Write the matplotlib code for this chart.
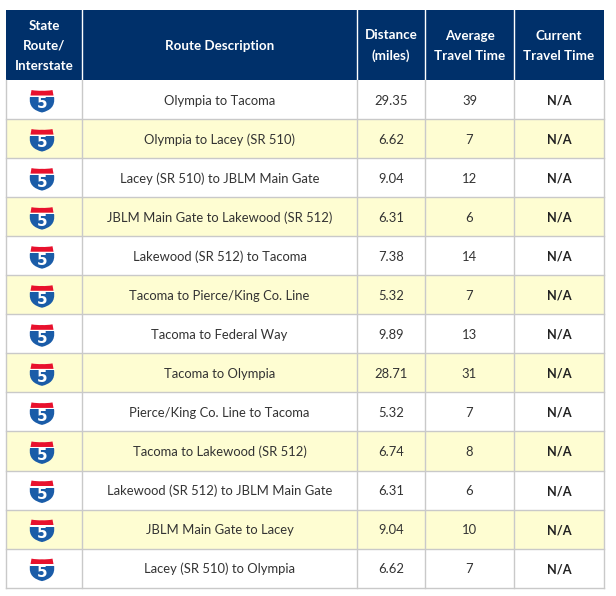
import matplotlib
matplotlib.use("Agg")
import matplotlib.pyplot as plt
from matplotlib.patches import Rectangle, PathPatch
from matplotlib.path import Path

routes = [
    "Olympia to Tacoma", "Olympia to Lacey (SR 510)", "Lacey (SR 510) to JBLM Main Gate",
    "JBLM Main Gate to Lakewood (SR 512)", "Lakewood (SR 512) to Tacoma",
    "Tacoma to Pierce/King Co. Line", "Tacoma to Federal Way", "Tacoma to Olympia",
    "Pierce/King Co. Line to Tacoma", "Tacoma to Lakewood (SR 512)",
    "Lakewood (SR 512) to JBLM Main Gate", "JBLM Main Gate to Lacey", "Lacey (SR 510) to Olympia",
]
distance = ["29.35", "6.62", "9.04", "6.31", "7.38", "5.32", "9.89", "28.71", "5.32", "6.74", "6.31", "9.04", "6.62"]
avg_time = ["39", "7", "12", "6", "14", "7", "13", "31", "7", "8", "6", "10", "7"]
cur_time = ["N/A"] * 13
headers = ["State\nRoute/\nInterstate", "Route Description", "Distance\n(miles)",
           "Average\nTravel Time", "Current\nTravel Time"]

col_x = [6, 82, 357, 425, 514, 604]
head_top, head_bot = 10, 80
row_h = 39.05

NAVY = "#00306a"
CREAM = "#fefdd2"
LINE = "#c9c9c9"
TXT = "#333333"

plt.rcParams["font.family"] = ["Lato", "DejaVu Sans"]


def draw_shield(ax, cx, cy):
    # blue body
    body = Path(
        [(cx - 12, cy - 4), (cx + 12, cy - 4),
         (cx + 13.5, cy + 6), (cx + 8, cy + 10), (cx, cy + 12),
         (cx - 8, cy + 10), (cx - 13.5, cy + 6), (cx - 12, cy - 4)],
        [Path.MOVETO, Path.LINETO, Path.CURVE4, Path.CURVE4, Path.CURVE4, Path.CURVE4, Path.CURVE4, Path.CURVE4],
    )
    ax.add_patch(PathPatch(body, fc="#1a5ca8", ec="none", zorder=3))
    # red cap, top edge dips a little in the middle
    cap = Path(
        [(cx - 11.5, cy - 5), (cx - 10.5, cy - 10.5), (cx - 5, cy - 9.5), (cx, cy - 9.8),
         (cx + 5, cy - 9.5), (cx + 10.5, cy - 10.5), (cx + 11.5, cy - 5), (cx - 11.5, cy - 5)],
        [Path.MOVETO, Path.LINETO, Path.CURVE3, Path.CURVE3, Path.CURVE3, Path.CURVE3, Path.LINETO, Path.CLOSEPOLY],
    )
    ax.add_patch(PathPatch(cap, fc="#e8112d", ec="none", zorder=4))
    ax.add_patch(Rectangle((cx - 12.5, cy - 5), 25, 1.5, fc="white", ec="none", zorder=5))
    ax.text(cx, cy + 3.4, "5", color="white", fontsize=11, fontweight="bold",
            family=["Liberation Sans Narrow", "DejaVu Sans"], ha="center", va="center", zorder=6)


fig = plt.figure(figsize=(6.16, 5.96), dpi=100)
ax = fig.add_axes([0, 0, 1, 1])
ax.set_xlim(0, 616)
ax.set_ylim(596, 0)
ax.axis("off")

n = len(routes)
table_bot = head_bot + n * row_h

# header
ax.add_patch(Rectangle((col_x[0], head_top), col_x[-1] - col_x[0], head_bot - head_top, fc=NAVY, ec="none"))
for i, h in enumerate(headers):
    xc = (col_x[i] + col_x[i + 1]) / 2
    ax.text(xc, (head_top + head_bot) / 2 + 0.5, h, color="white", fontsize=9.6, fontweight="bold",
            ha="center", va="center", linespacing=1.8)
for x in col_x[1:-1]:
    ax.plot([x, x], [head_top, head_bot], color="white", lw=1, zorder=2)

# rows
for r in range(n):
    y0 = head_bot + r * row_h
    yc = y0 + row_h / 2
    if r % 2 == 1:
        ax.add_patch(Rectangle((col_x[0], y0), col_x[-1] - col_x[0], row_h, fc=CREAM, ec="none"))
    ax.plot([col_x[0], col_x[-1]], [y0 + row_h, y0 + row_h], color=LINE, lw=1, zorder=2)
    draw_shield(ax, (col_x[0] + col_x[1]) / 2 - 2, yc + 1)
    ax.text((col_x[1] + col_x[2]) / 2, yc + 1, routes[r], color=TXT, fontsize=9.4, ha="center", va="center")
    ax.text((col_x[2] + col_x[3]) / 2, yc + 1, distance[r], color=TXT, fontsize=9.4, ha="center", va="center")
    ax.text((col_x[3] + col_x[4]) / 2, yc + 1, avg_time[r], color=TXT, fontsize=9.4, ha="center", va="center")
    ax.text((col_x[4] + col_x[5]) / 2, yc + 1, cur_time[r], color="#222222", fontsize=9.2, fontweight="bold",
            ha="center", va="center")

for x in col_x:
    ax.plot([x, x], [head_bot, table_bot], color=LINE, lw=1, zorder=2)

fig.savefig("out.png", dpi=100)
